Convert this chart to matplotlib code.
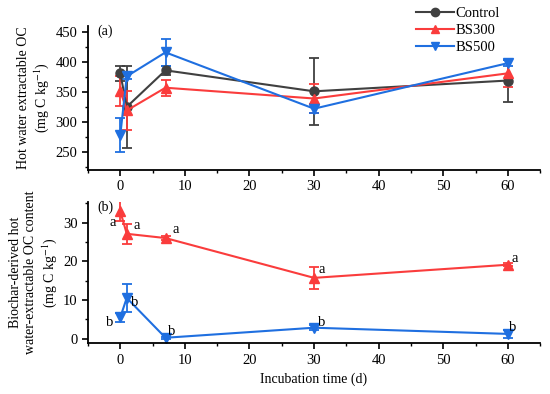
import numpy as np
import matplotlib
matplotlib.use("Agg")
import matplotlib.pyplot as plt
from matplotlib.ticker import MultipleLocator
from matplotlib.lines import Line2D

# ---------------------------
# Data
# ---------------------------
days = [0, 1, 7, 30, 60]

ctrl_hw = [381, 325, 386, 351, 369]
ctrl_hw_err = [13, 68, 8, 56, 35]
bs300_hw = [352, 319, 357, 339, 381]
bs300_hw_err = [25, 33, 13, 25, 23]
bs500_hw = [278, 376, 416, 322, 398]
bs500_hw_err = [28, 5, 23, 8, 5]

bs300_bd = [32.9, 27.1, 26.0, 15.7, 19.1]
bs300_bd_err = [2.6, 2.6, 0.5, 2.9, 0.4]
bs500_bd = [5.5, 10.5, 0.2, 2.8, 1.2]
bs500_bd_err = [1.2, 3.6, 0.3, 0.7, 1.0]

# significance letters (x, y)
letters_a = [(-1.2, 30.1), (2.5, 29.2), (8.6, 28.1), (31.2, 17.8), (61.0, 20.6)]
letters_b = [(-1.6, 4.2), (2.2, 9.2), (7.9, 1.9), (31.2, 4.1), (60.8, 2.9)]

GRAY = "#404040"
RED = "#fa3c3c"
BLUE = "#1f6fe0"

plt.rcParams["font.family"] = ["Liberation Serif", "DejaVu Serif"]
plt.rcParams["mathtext.fontset"] = "stix"
FS = 10

fig = plt.figure(figsize=(5.5, 3.94), dpi=100)
ax1 = fig.add_axes([0.16, 0.569, 0.822, 0.365])
ax2 = fig.add_axes([0.16, 0.129, 0.822, 0.358])

kw = dict(lw=1.5, capsize=3.5, capthick=1.3, elinewidth=1.3, markersize=6.5)

# ---------------------------
# Panel (a)
# ---------------------------
ax1.errorbar(days, ctrl_hw, yerr=ctrl_hw_err, color=GRAY, marker="o", **kw)
ax1.errorbar(days, bs300_hw, yerr=bs300_hw_err, color=RED, marker="^", **kw)
ax1.errorbar(days, bs500_hw, yerr=bs500_hw_err, color=BLUE, marker="v", **kw)
ax1.set_ylim(220, 460)
ax1.yaxis.set_major_locator(MultipleLocator(50))
ax1.yaxis.set_minor_locator(MultipleLocator(25))
ax1.set_ylabel("Hot water extractable OC\n(mg C kg$^{-1}$)", fontsize=FS, labelpad=3)
ax1.text(0.02, 1.01, "(a)", transform=ax1.transAxes, fontsize=FS, va="top")

handles = [
    Line2D([], [], color=GRAY, marker="o", lw=1.5, markersize=6),
    Line2D([], [], color=RED, marker="^", lw=1.5, markersize=6),
    Line2D([], [], color=BLUE, marker="v", lw=1.5, markersize=6),
]
fig.legend(handles, ["Control", "BS300", "BS500"], loc="upper left",
           bbox_to_anchor=(0.74, 1.005), frameon=False, fontsize=FS + 0.5,
           handlelength=2.6, labelspacing=0.25, borderpad=0.1, handletextpad=0.15)

# ---------------------------
# Panel (b)
# ---------------------------
ax2.errorbar(days, bs300_bd, yerr=bs300_bd_err, color=RED, marker="^", **kw)
ax2.errorbar(days, bs500_bd, yerr=bs500_bd_err, color=BLUE, marker="v", **kw)
for x, y in letters_a:
    ax2.text(x, y, "a", fontsize=FS + 0.5, ha="center", va="center")
for x, y in letters_b:
    ax2.text(x, y, "b", fontsize=FS + 0.5, ha="center", va="center")
ax2.set_ylim(-1.2, 35.3)
ax2.yaxis.set_major_locator(MultipleLocator(10))
ax2.yaxis.set_minor_locator(MultipleLocator(5))
ax2.set_ylabel("Biochar-derived hot\nwater-extractable OC content\n(mg C kg$^{-1}$)",
               fontsize=FS, labelpad=3)
ax2.set_xlabel("Incubation time (d)", fontsize=FS)
ax2.text(0.02, 1.01, "(b)", transform=ax2.transAxes, fontsize=FS, va="top")

for ax in (ax1, ax2):
    ax.set_xlim(-5, 65)
    ax.xaxis.set_major_locator(MultipleLocator(10))
    ax.xaxis.set_minor_locator(MultipleLocator(5))
    ax.spines["top"].set_visible(False)
    ax.spines["right"].set_visible(False)
    ax.spines["left"].set_linewidth(1.3)
    ax.spines["bottom"].set_linewidth(1.3)
    ax.tick_params(which="major", direction="out", length=4, width=1.2, labelsize=FS + 0.5)
    ax.tick_params(which="minor", direction="out", length=2.5, width=1.0)

fig.savefig("out.png", dpi=100)
